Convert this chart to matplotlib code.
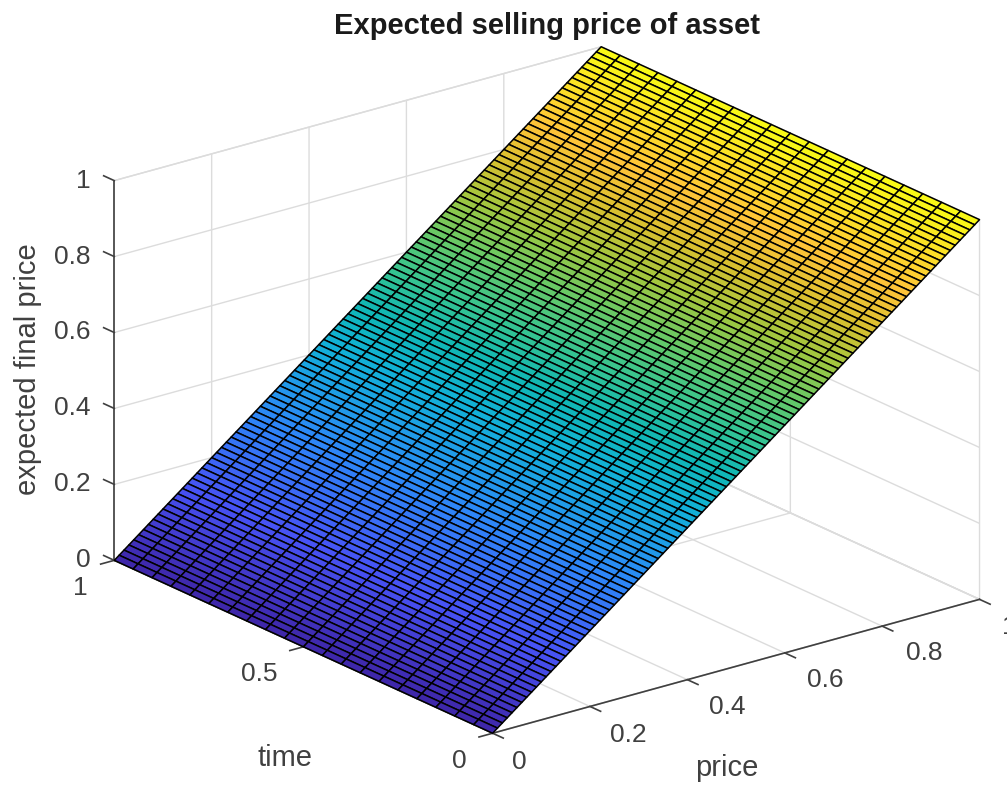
import numpy as np
import matplotlib
matplotlib.use("Agg")
import matplotlib.pyplot as plt
from matplotlib.colors import LinearSegmentedColormap

W, H = 1007, 789

# values
price = [0.00, 0.01, 0.02, 0.03, 0.04, 0.05, 0.06, 0.07, 0.08, 0.09,
         0.10, 0.11, 0.12, 0.13, 0.14, 0.15, 0.16, 0.17, 0.18, 0.19,
         0.20, 0.21, 0.22, 0.23, 0.24, 0.25, 0.26, 0.27, 0.28, 0.29,
         0.30, 0.31, 0.32, 0.33, 0.34, 0.35, 0.36, 0.37, 0.38, 0.39,
         0.40, 0.41, 0.42, 0.43, 0.44, 0.45, 0.46, 0.47, 0.48, 0.49,
         0.50, 0.51, 0.52, 0.53, 0.54, 0.55, 0.56, 0.57, 0.58, 0.59,
         0.60, 0.61, 0.62, 0.63, 0.64, 0.65, 0.66, 0.67, 0.68, 0.69,
         0.70, 0.71, 0.72, 0.73, 0.74, 0.75, 0.76, 0.77, 0.78, 0.79,
         0.80, 0.81, 0.82, 0.83, 0.84, 0.85, 0.86, 0.87, 0.88, 0.89,
         0.90, 0.91, 0.92, 0.93, 0.94, 0.95, 0.96, 0.97, 0.98, 0.99, 1.00]
time = [0.00, 0.05, 0.10, 0.15, 0.20, 0.25, 0.30, 0.35, 0.40, 0.45, 0.50,
        0.55, 0.60, 0.65, 0.70, 0.75, 0.80, 0.85, 0.90, 0.95, 1.00]
# expected final price at each price level, same at every time
expected = list(price)
price_ticks = [0, 0.2, 0.4, 0.6, 0.8, 1]
price_labels = ["0", "0.2", "0.4", "0.6", "0.8", "1"]
time_ticks = [0, 0.5, 1]
time_labels = ["0", "0.5", "1"]
z_ticks = [0, 0.2, 0.4, 0.6, 0.8, 1]
z_labels = ["0", "0.2", "0.4", "0.6", "0.8", "1"]

parula_stops = [0, 0.143, 0.286, 0.429, 0.5, 0.571, 0.643, 0.714, 0.786, 0.857, 1]
parula_colors = ["#3e26a8", "#4752f4", "#2d87f7", "#11b1d6", "#10b6b4", "#37c48f",
                 "#66c866", "#a0c63f", "#d9bf2f", "#fec338", "#f9fb15"]
parula = LinearSegmentedColormap.from_list("parula", list(zip(parula_stops, parula_colors)))

AXIS_COLOR = '#404040'
LIGHT = '#dcdcdc'
TICK_LEN = 0.028

plt.rcParams['font.family'] = ['Liberation Sans', 'DejaVu Sans']
plt.rcParams['grid.color'] = LIGHT
plt.rcParams['grid.linewidth'] = 1.0

fig = plt.figure(figsize=(W / 100, H / 100), dpi=100)
ax = fig.add_axes([151.5 / W, 3.6 / H, 770 / W, 770 / H], projection='3d', proj_type='ortho')
ax.computed_zorder = False
ax.view_init(elev=20.76, azim=-127.8)
ax.set_box_aspect((616.7, 617.8, 406.4), zoom=1.213)

X, Y = np.meshgrid(price, time)
Z = np.tile(expected, (len(time), 1))
surf = ax.plot_surface(X, Y, Z, cmap=parula, vmin=0, vmax=1, rstride=1, cstride=1,
                       edgecolor='black', linewidth=1.1, shade=False, antialiased=True,
                       zorder=3)
surf.set_clip_on(False)

ax.set_xlim(0, 1, view_margin=0)
ax.set_ylim(0, 1, view_margin=0)
ax.set_zlim(0, 1, view_margin=0)
ax.set_xticks(price_ticks, [""] * len(price_ticks))
ax.set_yticks(time_ticks, [""] * len(time_ticks))
ax.set_zticks(z_ticks, [""] * len(z_ticks))

for axis in (ax.xaxis, ax.yaxis, ax.zaxis):
    axis.set_pane_color((1, 1, 1, 1))
    axis.pane.set_edgecolor(LIGHT)
    axis.line.set_color(AXIS_COLOR)
    axis.line.set_linewidth(1.2)
    axis._axinfo['tick']['inward_factor'] = 0.0
    axis._axinfo['tick']['outward_factor'] = 0.0
ax.zaxis.line.set_color(LIGHT)

tick_style = dict(color=AXIS_COLOR, linewidth=1.2, clip_on=False, zorder=2)
text_style = dict(fontsize=19, color=AXIS_COLOR, va='center')

ax.plot([0, 0], [1, 1], [0, 1], **tick_style)
for t, s in zip(price_ticks, price_labels):
    ax.plot([t, t], [0, -TICK_LEN], [0, 0], **tick_style)
    # the label at 1 runs off the right edge of the figure, as in the reference
    ax.text(min(t * 1.012, 1.008), -0.05, -0.052, s, ha='left', **text_style)
for t, s in zip(time_ticks, time_labels):
    ax.plot([0, -TICK_LEN], [t, t], [0, 0], **tick_style)
    ax.text(-0.054, t, -0.053, s, ha='right', **text_style)
for t, s in zip(z_ticks, z_labels):
    ax.plot([0, 0], [1, 1 + TICK_LEN], [t, t], **tick_style)
    ax.text(-0.048, 1, t + 0.017, s, ha='right', **text_style)

fig.text(547 / W, 1 - 26 / H, "Expected selling price of asset", ha='center', va='center',
         fontsize=21, fontweight='bold', color='#1a1a1a')
fig.text(28 / W, 1 - 369 / H, "expected final price", rotation=90, ha='center', va='center',
         fontsize=21, color=AXIS_COLOR)
fig.text(285 / W, 1 - 758 / H, "time", ha='center', va='center', fontsize=21, color=AXIS_COLOR)
fig.text(727 / W, 1 - 768 / H, "price", ha='center', va='center', fontsize=21, color=AXIS_COLOR)

fig.savefig("out.png", dpi=100)
